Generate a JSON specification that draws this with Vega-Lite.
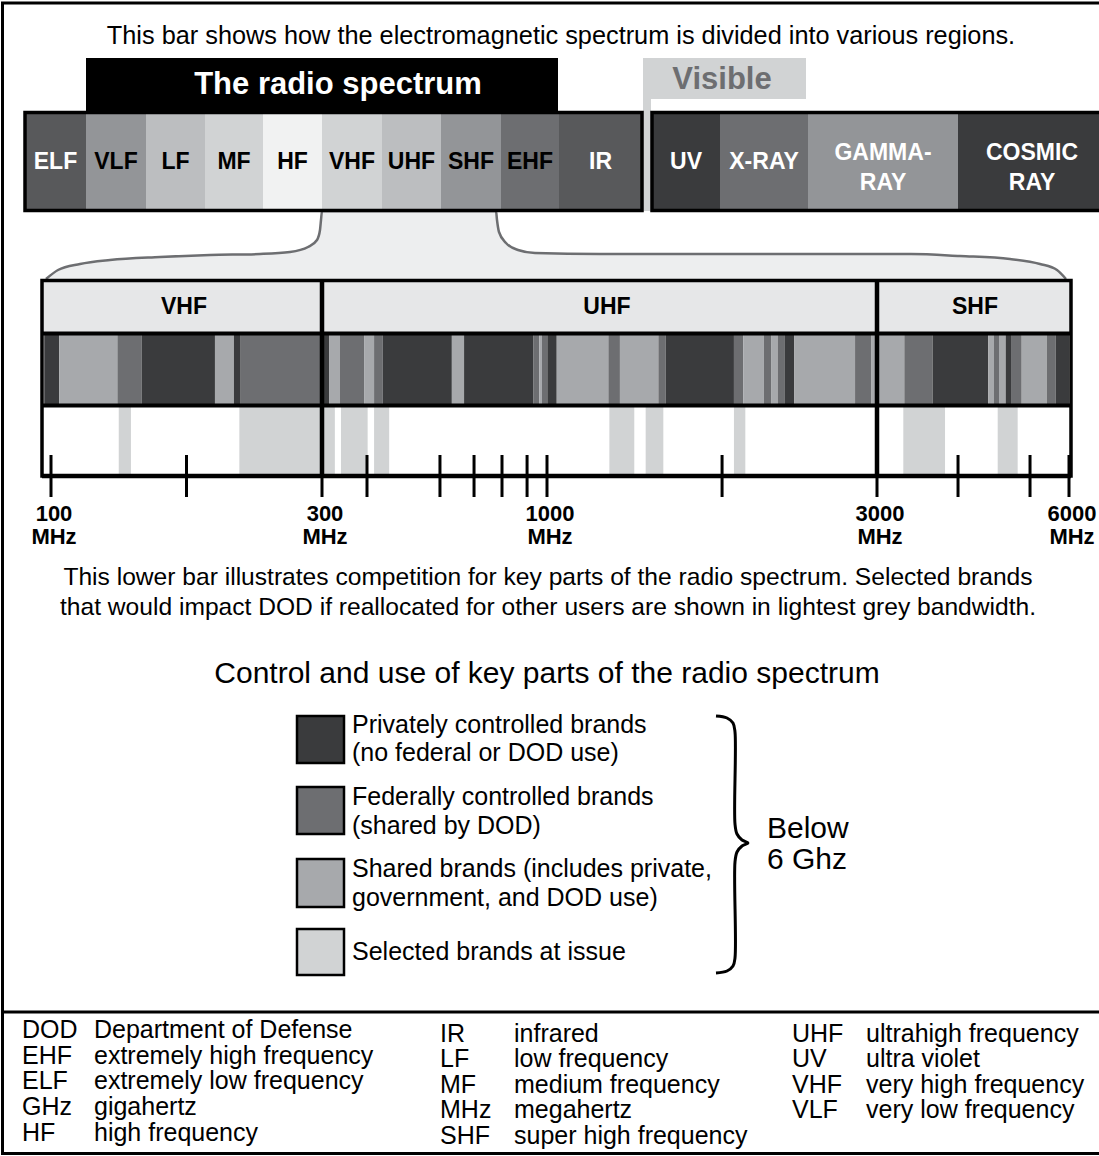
{
  "$schema": "https://vega.github.io/schema/vega-lite/v6.json",
  "width": 1099,
  "height": 1156,
  "padding": 0,
  "autosize": {"type": "none"},
  "background": "white",
  "config": {"view": {"stroke": null}, "font": "Liberation Sans", "text": {"font": "Liberation Sans"}},
  "datasets": {
    "regions": [
      {"region": "ELF", "side": "radio", "x": 25, "x2": 86, "label": "ELF"},
      {"region": "VLF", "side": "radio", "x": 86, "x2": 146, "label": "VLF"},
      {"region": "LF", "side": "radio", "x": 146, "x2": 205, "label": "LF"},
      {"region": "MF", "side": "radio", "x": 205, "x2": 263, "label": "MF"},
      {"region": "HF", "side": "radio", "x": 263, "x2": 322, "label": "HF"},
      {"region": "VHF", "side": "radio", "x": 322, "x2": 382, "label": "VHF"},
      {"region": "UHF", "side": "radio", "x": 382, "x2": 441, "label": "UHF"},
      {"region": "SHF", "side": "radio", "x": 441, "x2": 501, "label": "SHF"},
      {"region": "EHF", "side": "radio", "x": 501, "x2": 559, "label": "EHF"},
      {"region": "IR", "side": "radio", "x": 559, "x2": 642, "label": "IR"},
      {"region": "UV", "side": "other", "x": 652, "x2": 720, "label": "UV"},
      {"region": "X-RAY", "side": "other", "x": 720, "x2": 808, "label": "X-RAY"},
      {"region": "GAMMA", "side": "other", "x": 808, "x2": 958, "label": "GAMMA-\nRAY"},
      {"region": "COSMIC", "side": "other", "x": 958, "x2": 1106, "label": "COSMIC\nRAY"}
    ],
    "neck": [
      {"x": 46, "y": 279}, {"x": 58, "y": 270}, {"x": 80, "y": 264}, {"x": 110, "y": 260},
      {"x": 160, "y": 257}, {"x": 210, "y": 255}, {"x": 260, "y": 254}, {"x": 290, "y": 252},
      {"x": 308, "y": 247}, {"x": 317, "y": 240}, {"x": 320, "y": 230}, {"x": 321, "y": 220},
      {"x": 322, "y": 211}, {"x": 496, "y": 211}, {"x": 497, "y": 220}, {"x": 499, "y": 232},
      {"x": 506, "y": 243}, {"x": 518, "y": 250}, {"x": 535, "y": 253}, {"x": 600, "y": 254},
      {"x": 911, "y": 254}, {"x": 960, "y": 256}, {"x": 1010, "y": 259}, {"x": 1040, "y": 264},
      {"x": 1057, "y": 270}, {"x": 1066, "y": 279}
    ],
    "bands": [
      {"lo": 95, "hi": 106, "cat": "Private"},
      {"lo": 106, "hi": 149, "cat": "Shared"},
      {"lo": 149, "hi": 167, "cat": "Federal"},
      {"lo": 167, "hi": 221, "cat": "Private"},
      {"lo": 221, "hi": 235, "cat": "Shared"},
      {"lo": 235, "hi": 240, "cat": "Private"},
      {"lo": 240, "hi": 300, "cat": "Federal"},
      {"lo": 300, "hi": 323, "cat": "Private"},
      {"lo": 323, "hi": 356, "cat": "Shared"},
      {"lo": 356, "hi": 431, "cat": "Federal"},
      {"lo": 431, "hi": 462, "cat": "Shared"},
      {"lo": 462, "hi": 489, "cat": "Federal"},
      {"lo": 489, "hi": 704, "cat": "Private"},
      {"lo": 704, "hi": 742, "cat": "Shared"},
      {"lo": 742, "hi": 957, "cat": "Private"},
      {"lo": 957, "hi": 976, "cat": "Federal"},
      {"lo": 976, "hi": 984, "cat": "Shared"},
      {"lo": 984, "hi": 1002, "cat": "Federal"},
      {"lo": 1002, "hi": 1059, "cat": "Private"},
      {"lo": 1059, "hi": 1372, "cat": "Shared"},
      {"lo": 1372, "hi": 1442, "cat": "Federal"},
      {"lo": 1442, "hi": 1675, "cat": "Shared"},
      {"lo": 1675, "hi": 1719, "cat": "Federal"},
      {"lo": 1719, "hi": 2133, "cat": "Private"},
      {"lo": 2133, "hi": 2190, "cat": "Federal"},
      {"lo": 2190, "hi": 2315, "cat": "Shared"},
      {"lo": 2315, "hi": 2358, "cat": "Federal"},
      {"lo": 2358, "hi": 2398, "cat": "Shared"},
      {"lo": 2398, "hi": 2442, "cat": "Federal"},
      {"lo": 2442, "hi": 2499, "cat": "Private"},
      {"lo": 2499, "hi": 2867, "cat": "Shared"},
      {"lo": 2867, "hi": 2964, "cat": "Federal"},
      {"lo": 2964, "hi": 3427, "cat": "Shared"},
      {"lo": 3427, "hi": 3870, "cat": "Federal"},
      {"lo": 3870, "hi": 4739, "cat": "Private"},
      {"lo": 4739, "hi": 4828, "cat": "Shared"},
      {"lo": 4828, "hi": 4906, "cat": "Federal"},
      {"lo": 4906, "hi": 5011, "cat": "Shared"},
      {"lo": 5011, "hi": 5105, "cat": "Private"},
      {"lo": 5105, "hi": 5261, "cat": "Federal"},
      {"lo": 5261, "hi": 5652, "cat": "Shared"},
      {"lo": 5652, "hi": 5792, "cat": "Federal"},
      {"lo": 5792, "hi": 6000, "cat": "Private"}
    ],
    "issue": [
      {"lo": 150, "hi": 159, "cat": "Issue"},
      {"lo": 239, "hi": 300, "cat": "Issue"},
      {"lo": 300, "hi": 340, "cat": "Issue"},
      {"lo": 359, "hi": 442, "cat": "Issue"},
      {"lo": 462, "hi": 509, "cat": "Issue"},
      {"lo": 1378, "hi": 1529, "cat": "Issue"},
      {"lo": 1598, "hi": 1705, "cat": "Issue"},
      {"lo": 2133, "hi": 2202, "cat": "Issue"},
      {"lo": 3411, "hi": 4063, "cat": "Issue"},
      {"lo": 4886, "hi": 5198, "cat": "Issue"}
    ],
    "ticks": [
      {"f": 100, "label": "100\nMHz"}, {"f": 200}, {"f": 300, "label": "300\nMHz"},
      {"f": 440}, {"f": 667}, {"f": 773}, {"f": 860}, {"f": 938},
      {"f": 1000, "label": "1000\nMHz"}, {"f": 2061}, {"f": 3000, "label": "3000\nMHz"},
      {"f": 4266}, {"f": 5391}, {"f": 6000, "label": "6000\nMHz"}
    ],
    "sectionEdges": [{"f": 300}, {"f": 3000}],
    "sections": [
      {"name": "VHF", "x": 184}, {"name": "UHF", "x": 607}, {"name": "SHF", "x": 975}
    ],
    "legend": [
      {"cat": "Private", "y": 716, "y2": 763},
      {"cat": "Federal", "y": 787, "y2": 834},
      {"cat": "Shared", "y": 859, "y2": 907},
      {"cat": "Issue", "y": 929, "y2": 975}
    ],
    "topText": [
      {"x": 561, "y": 36, "text": "This bar shows how the electromagnetic spectrum is divided into various regions."}
    ],
    "centerText": [
      {"x": 548, "y": 578, "text": "This lower bar illustrates competition for key parts of the radio spectrum. Selected brands"},
      {"x": 548, "y": 608, "text": "that would impact DOD if reallocated for other users are shown in lightest grey bandwidth."}
    ],
    "leftText": [
      {"x": 352, "y": 725, "text": "Privately controlled brands"},
      {"x": 352, "y": 753, "text": "(no federal or DOD use)"},
      {"x": 352, "y": 797, "text": "Federally controlled brands"},
      {"x": 352, "y": 826, "text": "(shared by DOD)"},
      {"x": 352, "y": 869, "text": "Shared brands (includes private,"},
      {"x": 352, "y": 898, "text": "government, and DOD use)"},
      {"x": 352, "y": 952, "text": "Selected brands at issue"},
      {"x": 22, "y": 1030, "text": "DOD"}, {"x": 94, "y": 1030, "text": "Department of Defense"},
      {"x": 22, "y": 1056, "text": "EHF"}, {"x": 94, "y": 1056, "text": "extremely high frequency"},
      {"x": 22, "y": 1081, "text": "ELF"}, {"x": 94, "y": 1081, "text": "extremely low frequency"},
      {"x": 22, "y": 1107, "text": "GHz"}, {"x": 94, "y": 1107, "text": "gigahertz"},
      {"x": 22, "y": 1133, "text": "HF"}, {"x": 94, "y": 1133, "text": "high frequency"},
      {"x": 440, "y": 1034, "text": "IR"}, {"x": 514, "y": 1034, "text": "infrared"},
      {"x": 440, "y": 1059, "text": "LF"}, {"x": 514, "y": 1059, "text": "low frequency"},
      {"x": 440, "y": 1085, "text": "MF"}, {"x": 514, "y": 1085, "text": "medium frequency"},
      {"x": 440, "y": 1110, "text": "MHz"}, {"x": 514, "y": 1110, "text": "megahertz"},
      {"x": 440, "y": 1136, "text": "SHF"}, {"x": 514, "y": 1136, "text": "super high frequency"},
      {"x": 792, "y": 1034, "text": "UHF"}, {"x": 866, "y": 1034, "text": "ultrahigh frequency"},
      {"x": 792, "y": 1059, "text": "UV"}, {"x": 866, "y": 1059, "text": "ultra violet"},
      {"x": 792, "y": 1085, "text": "VHF"}, {"x": 866, "y": 1085, "text": "very high frequency"},
      {"x": 792, "y": 1110, "text": "VLF"}, {"x": 866, "y": 1110, "text": "very low frequency"}
    ],
    "bigText": [
      {"x": 547, "y": 674, "text": "Control and use of key parts of the radio spectrum"}
    ],
    "belowText": [
      {"x": 767, "y": 829, "text": "Below"},
      {"x": 767, "y": 860, "text": "6 Ghz"}
    ],
    "brace": [
      {"i": 0, "x": 716, "y": 716}, {"i": 1, "x": 727, "y": 718}, {"i": 2, "x": 733, "y": 723},
      {"i": 3, "x": 735, "y": 732}, {"i": 4, "x": 735, "y": 824}, {"i": 5, "x": 737, "y": 834},
      {"i": 6, "x": 742, "y": 840}, {"i": 7, "x": 748, "y": 843}, {"i": 8, "x": 742, "y": 846},
      {"i": 9, "x": 737, "y": 852}, {"i": 10, "x": 735, "y": 862}, {"i": 11, "x": 735, "y": 958},
      {"i": 12, "x": 733, "y": 966}, {"i": 13, "x": 727, "y": 971}, {"i": 14, "x": 716, "y": 973}
    ]
  },
  "resolve": {"scale": {"x": "independent"}},
  "layer": [
    {
      "layer": [
        {
          "data": {"values": [{}]},
          "mark": {"type": "rect", "filled": false, "color": "black", "strokeWidth": 3},
          "encoding": {
            "x": {"datum": 2.5, "type": "quantitative", "scale": {"domain": [0, 1099], "range": [0, 1099], "nice": false, "zero": false}, "axis": null},
            "x2": {"datum": 1110},
            "y": {"datum": 3, "type": "quantitative", "scale": {"domain": [0, 1156], "range": [0, 1156], "nice": false, "zero": false}, "axis": null},
            "y2": {"datum": 1153.5}
          }
        },
        {
          "data": {"values": [{}]},
          "mark": {"type": "rule", "color": "black", "strokeWidth": 3},
          "encoding": {
            "x": {"datum": 2, "type": "quantitative", "scale": {"domain": [0, 1099], "range": [0, 1099], "nice": false, "zero": false}, "axis": null},
            "x2": {"datum": 1099},
            "y": {"datum": 1012, "type": "quantitative", "scale": {"domain": [0, 1156], "range": [0, 1156], "nice": false, "zero": false}, "axis": null}
          }
        },
        {
          "data": {"name": "neck"},
          "mark": {"type": "area", "color": "#e6e7e8", "interpolate": "monotone", "line": {"color": "#6d6e71", "strokeWidth": 2.5}},
          "encoding": {
            "x": {"field": "x", "type": "quantitative", "scale": {"domain": [0, 1099], "range": [0, 1099], "nice": false, "zero": false}, "axis": null},
            "y": {"field": "y", "type": "quantitative", "scale": {"domain": [0, 1156], "range": [0, 1156], "nice": false, "zero": false}, "axis": null},
            "y2": {"datum": 281}
          }
        },
        {
          "data": {"values": [{}]},
          "mark": {"type": "rect", "color": "black"},
          "encoding": {
            "x": {"datum": 86, "type": "quantitative", "scale": {"domain": [0, 1099], "range": [0, 1099], "nice": false, "zero": false}, "axis": null},
            "x2": {"datum": 558},
            "y": {"datum": 58, "type": "quantitative", "scale": {"domain": [0, 1156], "range": [0, 1156], "nice": false, "zero": false}, "axis": null},
            "y2": {"datum": 113}
          }
        },
        {
          "data": {"values": [{}]},
          "mark": {"type": "rect", "color": "#d1d3d4"},
          "encoding": {
            "x": {"datum": 643, "type": "quantitative", "scale": {"domain": [0, 1099], "range": [0, 1099], "nice": false, "zero": false}, "axis": null},
            "x2": {"datum": 806},
            "y": {"datum": 58, "type": "quantitative", "scale": {"domain": [0, 1156], "range": [0, 1156], "nice": false, "zero": false}, "axis": null},
            "y2": {"datum": 99}
          }
        },
        {
          "data": {"values": [{}]},
          "mark": {"type": "rect", "color": "#d1d3d4"},
          "encoding": {
            "x": {"datum": 643, "type": "quantitative", "scale": {"domain": [0, 1099], "range": [0, 1099], "nice": false, "zero": false}, "axis": null},
            "x2": {"datum": 651},
            "y": {"datum": 99, "type": "quantitative", "scale": {"domain": [0, 1156], "range": [0, 1156], "nice": false, "zero": false}, "axis": null},
            "y2": {"datum": 211}
          }
        },
        {
          "data": {"name": "regions"},
          "mark": {"type": "rect"},
          "encoding": {
            "x": {"field": "x", "type": "quantitative", "scale": {"domain": [0, 1099], "range": [0, 1099], "nice": false, "zero": false}, "axis": null},
            "x2": {"field": "x2"},
            "y": {"datum": 114, "type": "quantitative", "scale": {"domain": [0, 1156], "range": [0, 1156], "nice": false, "zero": false}, "axis": null},
            "y2": {"datum": 209},
            "fill": {"field": "region", "type": "nominal", "legend": null,
              "scale": {"domain": ["ELF", "VLF", "LF", "MF", "HF", "VHF", "UHF", "SHF", "EHF", "IR", "UV", "X-RAY", "GAMMA", "COSMIC"],
                        "range": ["#58595b", "#939598", "#bcbec0", "#d1d3d4", "#f1f2f2", "#d1d3d4", "#bcbec0", "#939598", "#6d6e71", "#58595b", "#3a3b3d", "#6d6e71", "#939598", "#3a3b3d"]}}
          }
        },
        {
          "data": {"name": "regions"},
          "transform": [
            {"aggregate": [{"op": "min", "field": "x", "as": "x"}, {"op": "max", "field": "x2", "as": "x2"}], "groupby": ["side"]}
          ],
          "mark": {"type": "rect", "filled": false, "color": "black", "strokeWidth": 3.5},
          "encoding": {
            "x": {"field": "x", "type": "quantitative", "scale": {"domain": [0, 1099], "range": [0, 1099], "nice": false, "zero": false}, "axis": null},
            "x2": {"field": "x2"},
            "y": {"datum": 112.5, "type": "quantitative", "scale": {"domain": [0, 1156], "range": [0, 1156], "nice": false, "zero": false}, "axis": null},
            "y2": {"datum": 210.5}
          }
        },
        {
          "data": {"name": "regions"},
          "transform": [
            {"filter": "datum.region !== 'GAMMA' && datum.region !== 'COSMIC'"},
            {"calculate": "(datum.x + datum.x2) / 2", "as": "xm"}
          ],
          "mark": {"type": "text", "font": "Liberation Sans", "fontWeight": "bold", "fontSize": 23, "align": "center", "baseline": "middle"},
          "encoding": {
            "x": {"field": "xm", "type": "quantitative", "scale": {"domain": [0, 1099], "range": [0, 1099], "nice": false, "zero": false}, "axis": null},
            "y": {"datum": 162, "type": "quantitative", "scale": {"domain": [0, 1156], "range": [0, 1156], "nice": false, "zero": false}, "axis": null},
            "text": {"field": "label"},
            "color": {"condition": {"test": "indexof(['ELF','IR','UV','X-RAY'], datum.region) >= 0", "value": "white"}, "value": "black"}
          }
        },
        {
          "data": {"name": "regions"},
          "transform": [
            {"filter": "datum.region === 'GAMMA' || datum.region === 'COSMIC'"},
            {"calculate": "(datum.x + datum.x2) / 2", "as": "xm"}
          ],
          "mark": {"type": "text", "font": "Liberation Sans", "fontWeight": "bold", "fontSize": 23, "align": "center", "baseline": "middle", "lineBreak": "\n", "lineHeight": 30, "color": "white"},
          "encoding": {
            "x": {"field": "xm", "type": "quantitative", "scale": {"domain": [0, 1099], "range": [0, 1099], "nice": false, "zero": false}, "axis": null},
            "y": {"datum": 153, "type": "quantitative", "scale": {"domain": [0, 1156], "range": [0, 1156], "nice": false, "zero": false}, "axis": null},
            "text": {"field": "label"}
          }
        },
        {
          "data": {"values": [{}]},
          "mark": {"type": "text", "text": "The radio spectrum", "font": "Liberation Sans", "fontWeight": "bold", "fontSize": 31, "align": "center", "baseline": "middle", "color": "white"},
          "encoding": {
            "x": {"datum": 338, "type": "quantitative", "scale": {"domain": [0, 1099], "range": [0, 1099], "nice": false, "zero": false}, "axis": null},
            "y": {"datum": 85, "type": "quantitative", "scale": {"domain": [0, 1156], "range": [0, 1156], "nice": false, "zero": false}, "axis": null}
          }
        },
        {
          "data": {"values": [{}]},
          "mark": {"type": "text", "text": "Visible", "font": "Liberation Sans", "fontWeight": "bold", "fontSize": 31, "align": "center", "baseline": "middle", "color": "#6d6e71"},
          "encoding": {
            "x": {"datum": 722, "type": "quantitative", "scale": {"domain": [0, 1099], "range": [0, 1099], "nice": false, "zero": false}, "axis": null},
            "y": {"datum": 80, "type": "quantitative", "scale": {"domain": [0, 1156], "range": [0, 1156], "nice": false, "zero": false}, "axis": null}
          }
        },
        {
          "data": {"values": [{}]},
          "mark": {"type": "rect", "color": "#e6e7e8"},
          "encoding": {
            "x": {"datum": 43, "type": "quantitative", "scale": {"domain": [0, 1099], "range": [0, 1099], "nice": false, "zero": false}, "axis": null},
            "x2": {"datum": 1070},
            "y": {"datum": 281, "type": "quantitative", "scale": {"domain": [0, 1156], "range": [0, 1156], "nice": false, "zero": false}, "axis": null},
            "y2": {"datum": 332}
          }
        }
      ]
    },
    {
      "layer": [
        {
          "data": {"name": "issue"},
          "mark": {"type": "rect"},
          "encoding": {
            "x": {"field": "lo", "type": "quantitative", "scale": {"domain": [100, 300, 1000, 3000, 6000], "range": [51, 322, 547, 877, 1069], "nice": false, "zero": false}, "axis": null},
            "x2": {"field": "hi"},
            "y": {"datum": 407, "type": "quantitative", "scale": {"domain": [0, 1156], "range": [0, 1156], "nice": false, "zero": false}, "axis": null},
            "y2": {"datum": 475},
            "color": {"field": "cat", "type": "nominal", "legend": null, "scale": {"domain": ["Private", "Federal", "Shared", "Issue"], "range": ["#3a3b3d", "#6d6e71", "#a7a9ac", "#d1d3d4"]}}
          }
        },
        {
          "data": {"name": "bands"},
          "mark": {"type": "rect"},
          "encoding": {
            "x": {"field": "lo", "type": "quantitative", "scale": {"domain": [100, 300, 1000, 3000, 6000], "range": [51, 322, 547, 877, 1069], "nice": false, "zero": false}, "axis": null},
            "x2": {"field": "hi"},
            "y": {"datum": 335, "type": "quantitative", "scale": {"domain": [0, 1156], "range": [0, 1156], "nice": false, "zero": false}, "axis": null},
            "y2": {"datum": 404},
            "color": {"field": "cat", "type": "nominal", "legend": null, "scale": {"domain": ["Private", "Federal", "Shared", "Issue"], "range": ["#3a3b3d", "#6d6e71", "#a7a9ac", "#d1d3d4"]}}
          }
        },
        {
          "data": {"name": "sectionEdges"},
          "mark": {"type": "rule", "color": "black", "strokeWidth": 4.5},
          "encoding": {
            "x": {"field": "f", "type": "quantitative", "scale": {"domain": [100, 300, 1000, 3000, 6000], "range": [51, 322, 547, 877, 1069], "nice": false, "zero": false}, "axis": null},
            "y": {"datum": 280, "type": "quantitative", "scale": {"domain": [0, 1156], "range": [0, 1156], "nice": false, "zero": false}, "axis": null},
            "y2": {"datum": 476}
          }
        },
        {
          "data": {"name": "ticks"},
          "mark": {"type": "rule", "color": "black", "strokeWidth": 3},
          "encoding": {
            "x": {"field": "f", "type": "quantitative", "scale": {"domain": [100, 300, 1000, 3000, 6000], "range": [51, 322, 547, 877, 1069], "nice": false, "zero": false}, "axis": null},
            "y": {"datum": 455, "type": "quantitative", "scale": {"domain": [0, 1156], "range": [0, 1156], "nice": false, "zero": false}, "axis": null},
            "y2": {"datum": 497}
          }
        },
        {
          "data": {"name": "ticks"},
          "transform": [{"filter": "datum.label"}],
          "mark": {"type": "text", "font": "Liberation Sans", "fontWeight": "bold", "fontSize": 22, "align": "center", "baseline": "middle", "lineBreak": "\n", "lineHeight": 23, "dx": 3, "color": "black"},
          "encoding": {
            "x": {"field": "f", "type": "quantitative", "scale": {"domain": [100, 300, 1000, 3000, 6000], "range": [51, 322, 547, 877, 1069], "nice": false, "zero": false}, "axis": null},
            "y": {"datum": 514, "type": "quantitative", "scale": {"domain": [0, 1156], "range": [0, 1156], "nice": false, "zero": false}, "axis": null},
            "text": {"field": "label"}
          }
        }
      ]
    },
    {
      "layer": [
        {
          "data": {"values": [{}]},
          "mark": {"type": "rule", "color": "black", "strokeWidth": 4},
          "encoding": {
            "x": {"datum": 42, "type": "quantitative", "scale": {"domain": [0, 1099], "range": [0, 1099], "nice": false, "zero": false}, "axis": null},
            "x2": {"datum": 1071},
            "y": {"datum": 333.5, "type": "quantitative", "scale": {"domain": [0, 1156], "range": [0, 1156], "nice": false, "zero": false}, "axis": null}
          }
        },
        {
          "data": {"values": [{}]},
          "mark": {"type": "rule", "color": "black", "strokeWidth": 4},
          "encoding": {
            "x": {"datum": 42, "type": "quantitative", "scale": {"domain": [0, 1099], "range": [0, 1099], "nice": false, "zero": false}, "axis": null},
            "x2": {"datum": 1071},
            "y": {"datum": 405.5, "type": "quantitative", "scale": {"domain": [0, 1156], "range": [0, 1156], "nice": false, "zero": false}, "axis": null}
          }
        },
        {
          "data": {"values": [{}]},
          "mark": {"type": "rect", "filled": false, "color": "black", "strokeWidth": 3.5},
          "encoding": {
            "x": {"datum": 42, "type": "quantitative", "scale": {"domain": [0, 1099], "range": [0, 1099], "nice": false, "zero": false}, "axis": null},
            "x2": {"datum": 1071},
            "y": {"datum": 280.5, "type": "quantitative", "scale": {"domain": [0, 1156], "range": [0, 1156], "nice": false, "zero": false}, "axis": null},
            "y2": {"datum": 476}
          }
        },
        {
          "data": {"values": [{}]},
          "mark": {"type": "rule", "color": "black", "strokeWidth": 4.5},
          "encoding": {
            "x": {"datum": 42, "type": "quantitative", "scale": {"domain": [0, 1099], "range": [0, 1099], "nice": false, "zero": false}, "axis": null},
            "x2": {"datum": 1071},
            "y": {"datum": 476, "type": "quantitative", "scale": {"domain": [0, 1156], "range": [0, 1156], "nice": false, "zero": false}, "axis": null}
          }
        },
        {
          "data": {"name": "sections"},
          "mark": {"type": "text", "font": "Liberation Sans", "fontWeight": "bold", "fontSize": 23, "align": "center", "baseline": "middle", "color": "black"},
          "encoding": {
            "x": {"field": "x", "type": "quantitative", "scale": {"domain": [0, 1099], "range": [0, 1099], "nice": false, "zero": false}, "axis": null},
            "y": {"datum": 307, "type": "quantitative", "scale": {"domain": [0, 1156], "range": [0, 1156], "nice": false, "zero": false}, "axis": null},
            "text": {"field": "name"}
          }
        },
        {
          "data": {"name": "topText"},
          "mark": {"type": "text", "font": "Liberation Sans", "fontSize": 25.3, "align": "center", "baseline": "middle", "color": "black"},
          "encoding": {
            "x": {"field": "x", "type": "quantitative", "scale": {"domain": [0, 1099], "range": [0, 1099], "nice": false, "zero": false}, "axis": null},
            "y": {"field": "y", "type": "quantitative", "scale": {"domain": [0, 1156], "range": [0, 1156], "nice": false, "zero": false}, "axis": null},
            "text": {"field": "text"}
          }
        },
        {
          "data": {"name": "centerText"},
          "mark": {"type": "text", "font": "Liberation Sans", "fontSize": 24.6, "align": "center", "baseline": "middle", "color": "black"},
          "encoding": {
            "x": {"field": "x", "type": "quantitative", "scale": {"domain": [0, 1099], "range": [0, 1099], "nice": false, "zero": false}, "axis": null},
            "y": {"field": "y", "type": "quantitative", "scale": {"domain": [0, 1156], "range": [0, 1156], "nice": false, "zero": false}, "axis": null},
            "text": {"field": "text"}
          }
        },
        {
          "data": {"name": "bigText"},
          "mark": {"type": "text", "font": "Liberation Sans", "fontSize": 30, "align": "center", "baseline": "middle", "color": "black"},
          "encoding": {
            "x": {"field": "x", "type": "quantitative", "scale": {"domain": [0, 1099], "range": [0, 1099], "nice": false, "zero": false}, "axis": null},
            "y": {"field": "y", "type": "quantitative", "scale": {"domain": [0, 1156], "range": [0, 1156], "nice": false, "zero": false}, "axis": null},
            "text": {"field": "text"}
          }
        },
        {
          "data": {"name": "leftText"},
          "mark": {"type": "text", "font": "Liberation Sans", "fontSize": 25, "align": "left", "baseline": "middle", "color": "black"},
          "encoding": {
            "x": {"field": "x", "type": "quantitative", "scale": {"domain": [0, 1099], "range": [0, 1099], "nice": false, "zero": false}, "axis": null},
            "y": {"field": "y", "type": "quantitative", "scale": {"domain": [0, 1156], "range": [0, 1156], "nice": false, "zero": false}, "axis": null},
            "text": {"field": "text"}
          }
        },
        {
          "data": {"name": "belowText"},
          "mark": {"type": "text", "font": "Liberation Sans", "fontSize": 30, "align": "left", "baseline": "middle", "color": "black"},
          "encoding": {
            "x": {"field": "x", "type": "quantitative", "scale": {"domain": [0, 1099], "range": [0, 1099], "nice": false, "zero": false}, "axis": null},
            "y": {"field": "y", "type": "quantitative", "scale": {"domain": [0, 1156], "range": [0, 1156], "nice": false, "zero": false}, "axis": null},
            "text": {"field": "text"}
          }
        },
        {
          "data": {"name": "legend"},
          "mark": {"type": "rect", "stroke": "black", "strokeWidth": 2.5},
          "encoding": {
            "x": {"datum": 297, "type": "quantitative", "scale": {"domain": [0, 1099], "range": [0, 1099], "nice": false, "zero": false}, "axis": null},
            "x2": {"datum": 344},
            "y": {"field": "y", "type": "quantitative", "scale": {"domain": [0, 1156], "range": [0, 1156], "nice": false, "zero": false}, "axis": null},
            "y2": {"field": "y2"},
            "color": {"field": "cat", "type": "nominal", "legend": null, "scale": {"domain": ["Private", "Federal", "Shared", "Issue"], "range": ["#3a3b3d", "#6d6e71", "#a7a9ac", "#d1d3d4"]}}
          }
        },
        {
          "data": {"name": "brace"},
          "mark": {"type": "line", "color": "black", "strokeWidth": 3, "interpolate": "catmull-rom"},
          "encoding": {
            "x": {"field": "x", "type": "quantitative", "scale": {"domain": [0, 1099], "range": [0, 1099], "nice": false, "zero": false}, "axis": null},
            "y": {"field": "y", "type": "quantitative", "scale": {"domain": [0, 1156], "range": [0, 1156], "nice": false, "zero": false}, "axis": null},
            "order": {"field": "i", "type": "quantitative"}
          }
        }
      ]
    }
  ]
}
